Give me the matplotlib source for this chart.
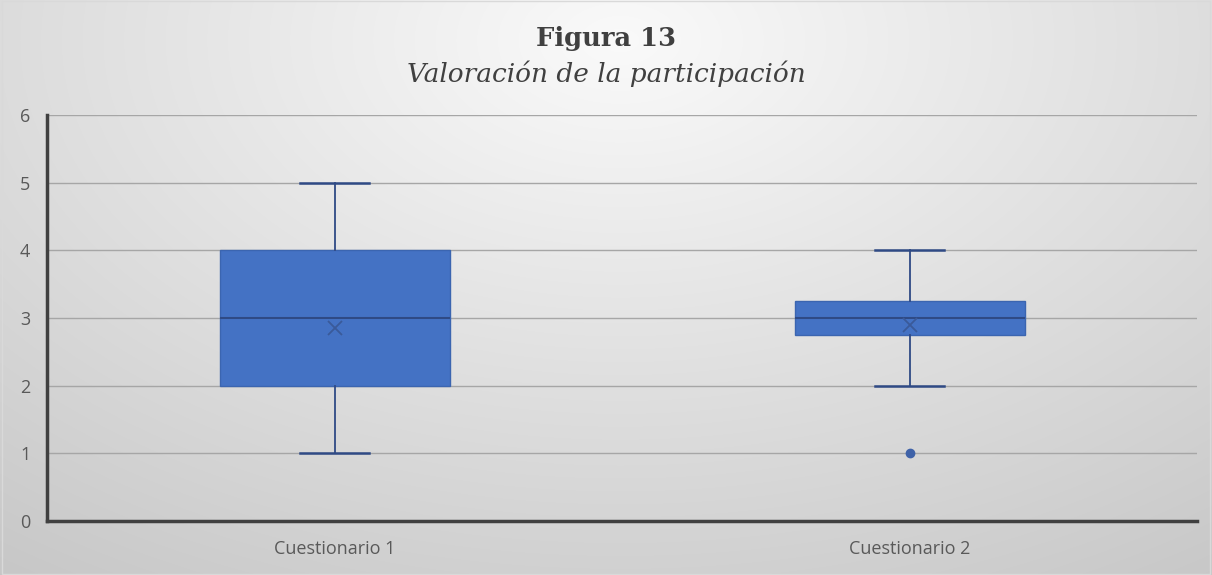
import numpy as np
import matplotlib.pyplot as plt

# Box plot summary
categories = ["Cuestionario 1", "Cuestionario 2"]
mins = [1, 2]
q1s = [2, 2.75]
medians = [3, 3]
q3s = [4, 3.25]
maxs = [5, 4]
means = [2.85, 2.9]
outliers = [[], [1]]

box_color = "#4472C4"
dark_blue = "#2F4A85"

fig = plt.figure(figsize=(12.12, 5.75), dpi=100)

# Radial gray background like the Excel chart style
bg = fig.add_axes([0, 0, 1, 1], zorder=-10)
yy, xx = np.mgrid[0:575, 0:1212]
r = np.sqrt(((xx - 620) / 900.0) ** 2 + ((yy - 40) / 560.0) ** 2)
shade = np.clip(0.98 - 0.17 * r, 0.78, 0.985)
bg.imshow(np.dstack([shade, shade, shade]), aspect="auto", extent=[0, 1, 0, 1])
bg.axis("off")
fig.patches.append(plt.Rectangle((0.002, 0.002), 0.996, 0.996, transform=fig.transFigure,
                                 fill=False, edgecolor="#d9d9d9", linewidth=1))

ax = fig.add_axes([0.0388, 0.094, 0.949, 0.706])
ax.patch.set_alpha(0)

stats = []
for i, name in enumerate(categories):
    stats.append({
        "label": name, "whislo": mins[i], "q1": q1s[i], "med": medians[i],
        "q3": q3s[i], "whishi": maxs[i], "mean": means[i], "fliers": outliers[i],
    })

ax.bxp(stats, positions=[1, 2], widths=0.4, capwidths=0.12, patch_artist=True,
       showmeans=True, showfliers=True,
       boxprops=dict(facecolor=box_color, edgecolor="#3B65B0", linewidth=1),
       medianprops=dict(color=dark_blue, linewidth=1.5),
       whiskerprops=dict(color=dark_blue, linewidth=1.3),
       capprops=dict(color=dark_blue, linewidth=1.8),
       meanprops=dict(marker="x", markeredgecolor="#3a5a9a", markersize=10, markeredgewidth=1.3),
       flierprops=dict(marker="o", markerfacecolor="#3F62A8", markeredgecolor="#3F62A8", markersize=6),
       zorder=3)

ax.set_xlim(0.5, 2.5)
ax.set_ylim(0, 6)
ax.set_yticks(range(0, 7))
ax.yaxis.grid(True, color="#a6a6a6", linewidth=1, zorder=0)
ax.set_axisbelow(True)
for s in ["top", "right"]:
    ax.spines[s].set_visible(False)
for s in ["left", "bottom"]:
    ax.spines[s].set_color("#404040")
    ax.spines[s].set_linewidth(2.5)
ax.tick_params(axis="y", length=0, labelsize=13, labelcolor="#595959", pad=12)
ax.tick_params(axis="x", length=0, labelsize=13, labelcolor="#595959", pad=14)
ax.set_xticks([1, 2])
ax.set_xticklabels(categories, fontfamily="Open Sans")
for lbl in ax.get_yticklabels():
    lbl.set_fontfamily("Open Sans")

fig.text(0.5, 0.933, "Figura 13", ha="center", va="center", fontsize=18.5,
         fontweight="bold", family="DejaVu Serif", color="#404040")
fig.text(0.5, 0.872, "Valoración de la participación", ha="center", va="center",
         fontsize=19, style="italic", family="DejaVu Serif", color="#404040")

fig.savefig("out.png", dpi=100)
